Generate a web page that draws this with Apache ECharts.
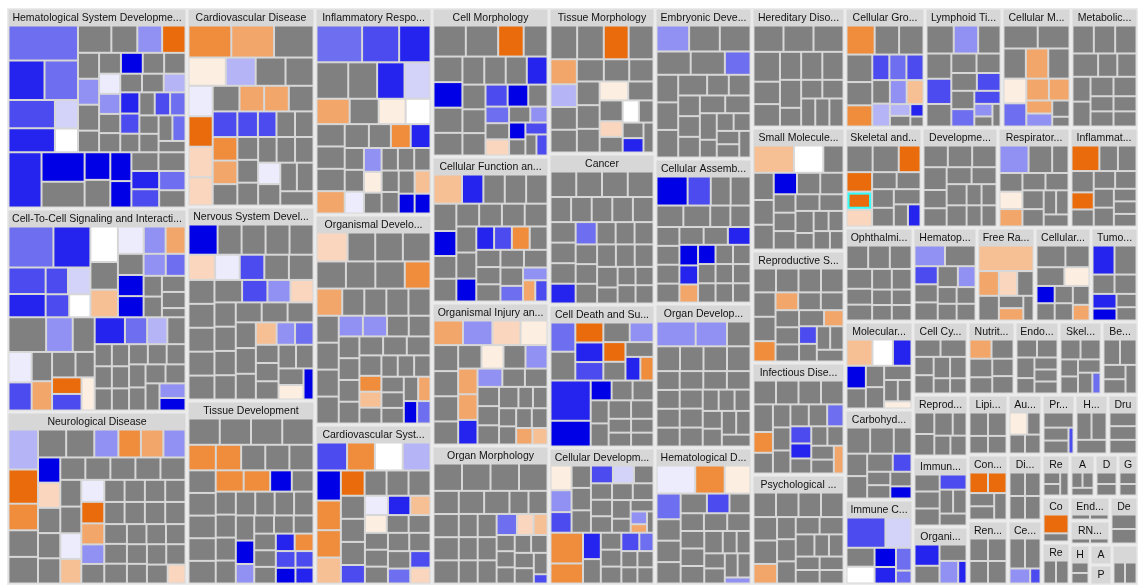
<!DOCTYPE html>
<html><head><meta charset="utf-8">
<script src="https://cdn.jsdelivr.net/npm/echarts@6/dist/echarts.min.js"></script>
<style>html,body{margin:0;padding:0;background:#fff}#c{width:1138px;height:585px}</style>
</head><body><div id="c"></div>
<script>
// ---- colour scale (IPA-style: gray = no change, blue shades down, orange shades up)
const colorCodes  = ['g','W','B0','B1','B2','B3','B4','B5','B6','B7','O0','O1','O2','O3','O4','O5'];
const colorValues = ['#808080','#ffffff','#0000e6','#2424ee','#4b4bf0','#6e6ef0','#9191f3','#b4b4f6','#d3d3f9','#ececfd',
                     '#e96b0b','#ef8d3c','#f2a66a','#f6bf94','#f9d6bd','#fdeee2'];

// ---- categories (key, name, area, cells "size:colour[*count]"; "/" separates bands, "|" blocks in a band)
const groupKeys = ['HSD','CTC','ND','CD','NSD','TD','IR','OD','CSD','CM','CFM','OIA','OM','TM','CA','CDS','CDv',
 'ED','CAO','ODv','HDi','HD','SMB','RSD','InD','PD','CGP','LT','CMo','MD','SMD','DD','RD','IDs','OphD','Hp','FRS','CCo','TMo',
 'MT','CHM','ICT','CC','NuD','ESDis','SMS','Beh','RSDF','ImD','OS','LM','AD','PS','HIR','DM','CTD','DSD','RUD','CSig',
 'RUS','AAM','DNA','GE','CTDF','RSysD','ESDF','RNA','DDC','HR','AP','PTM','VSD'];
const groupNames = ['Hematological System Development and Function','Cell-To-Cell Signaling and Interaction','Neurological Disease',
 'Cardiovascular Disease','Nervous System Development and Function','Tissue Development',
 'Inflammatory Response','Organismal Development','Cardiovascular System Development and Function',
 'Cell Morphology','Cellular Function and Maintenance','Organismal Injury and Abnormalities','Organ Morphology',
 'Tissue Morphology','Cancer','Cell Death and Survival','Cellular Development',
 'Embryonic Development','Cellular Assembly and Organization','Organ Development','Hematological Disease',
 'Hereditary Disorder','Small Molecule Biochemistry','Reproductive System Disease','Infectious Disease','Psychological Disorders',
 'Cellular Growth and Proliferation','Lymphoid Tissue Structure and Development','Cellular Movement','Metabolic Disease',
 'Skeletal and Muscular Disorders','Developmental Disorder','Respiratory Disease','Inflammatory Disease',
 'Ophthalmic Disease','Hematopoiesis','Free Radical Scavenging','Cellular Compromise','Tumor Morphology',
 'Molecular Transport','Carbohydrate Metabolism','Immune Cell Trafficking',
 'Cell Cycle','Nutritional Disease','Endocrine System Disorders','Skeletal and Muscular System Development and Function','Behavior',
 'Reproductive System Development and Function','Immunological Disease','Organismal Survival',
 'Lipid Metabolism','Auditory Disease','Protein Synthesis','Humoral Immune Response','Drug Metabolism',
 'Connective Tissue Disorders','Digestive System Development and Function','Renal and Urological Disease','Cell Signaling',
 'Renal and Urological System Development and Function','Amino Acid Metabolism','DNA Replication, Recombination, and Repair','Gene Expression',
 'Connective Tissue Development and Function','Respiratory System Development and Function',
 'Endocrine System Development and Function','RNA Post-Transcriptional Modification','Dermatological Diseases and Conditions',
 'Hypersensitivity Response','Antigen Presentation','Post-Translational Modification',''];
const groupAreas = [36180,36540,31140, 25472,24832,23552, 24219,24570,18720, 17433,17082,16731,16263,
 15476,16006,15158,14522, 14647,14065,13968,13289, 11160,11439,10416,10416,10230,
 9600,9240,8280,8040, 7700,7600,7200,6800, 6392,6016,5452,5264,4418, 5984,6120,5780,
 4015,3431,3212,3139,2628, 3410,3850,3190, 2400,2040,1980,1980,1800, 2640,2244,2560,2176,
 1176,1050,966,840, 1288,1176, 960,960,1344, 800,440,440,1040];
const groupCells = [
 "24:B3 14:B1 13:B3 11:B1 13:B2 6.5:B6 5.4:W | 9:g 4:g*2 5.4:g 5.4:B4 3.3:B3 6.7:B4 5.4:g 4.2:B7 3.8:B2 4.5:g*2 4.5:B0 3.5:g*2 3.5:B2 4:g*2 6.3:O0 4.4:g*2 4.2:B4 4:B5 3.5:B3 7:g 4:B1 3.5:g*3 3:g / 18:B1 12.5:B0 11:g | 7:B0 5:g*2 6:B0 5.5:B0 7:g 5:B1 4.5:g 5:B2 5:B3",
 "17:B3 5:B2 5.5:B2 9:B2 5.5:B6 14:B1 8:B1 4.5:W | 6.5:B7 5.5:B4 7:g 2:g 7:O3 9:W 4.5:B4 4:B3 5:O2 5:g 5:B0 3.5:g*4 5:B0 / 12:g 7:g 6.5:B7 6:B2 5.5:g 5.5:O2 4:O5 4.5:g 4.5:O0 4.5:B2 5.5:g 8.5:B4 | 7.5:B1 4.5:g 5:B5 5.5:B3 3.5:g*14 3.5:B4 3:B0",
 "3:O4 9:O0 5.6:O1 7:O1 5.5:B4 5:B0 4.4:O0 4.8:B7 4.5:B7 4.3:O2 6:B4 5.6:O2 4.6:O3 10.5:B5 5:O4 4:B4 7:g*4 5:g*10 4:g*12 3.5:g*8",
 "13:O1 7:B7 10:O5 13:O2 6:O2 5:g 7.5:g 6:O2 8:B5 6.5:O4 6:g 6:B2 5.5:O1 5.5:O2 8:g 12:g 4.5:B2 5:B2 4.5:g*3 7:O0 4.5:g*5 7:O4 6.5:g 4.5:B7 4.5:g*4",
 "6:B7 5:B4 5:O4 4.5:O3 4:B4 4:B3 6.5:O4 5.5:B2 8.5:B0 6:B2 3:B0 3.5:O5 7:g*4 6:g*8 5:g*10 4:g*6",
 "5.5:O1 3:B0 3.2:B1 4.5:B0 4.2:B0 2.8:B1 6.8:O1 6.3:O1 3.5:B4 3.2:O1 3.2:B2 2.9:B2 5.8:O1 8:g*4 6:g*8 4.5:g*10 3.5:g*6",
 "11:B1 13:B2 9.5:B1 16:B3 9:B6 6:W 6:g 11:g 8:O2 10:g 5:g 4.5:O1 6.5:O5 6:g 5.5:g 7:g 4:g 3.5:O5 4:g 4:B7 4:B4 6:g 3:B0 3:B0 3.5:g*3 6:O2 4.5:B1 3.5:g*4 3.5:O3",
 "3:O2 9:O4 7:O1 5:B4 5:B4 7:O2 3.5:O1 3.5:O3 3:B0 3:B3 8:g*6 6:g*8 4.5:g*10 3.5:g*8",
 "2.9:O4 3:B3 7:O1 6.5:O1 6:O1 7:W 7:B5 3:B2 6.6:B0 5.4:O0 3.9:B1 4:B2 4:B7 7.7:B2 5.7:O3 3.5:O3 3.5:O5 5:g*6 3.5:g*8",
 "5.7:g 5.4:g 4.9:g 9.5:g 5.8:g 6.2:g 5.2:g 9.5:g 7:g 6.9:g 7:g 3.2:g 4:g 3.6:g 5.6:g 2.5:g 2.2:g 3.7:B3 2.6:B4 2.6:B0 4.6:B2 5.5:B1 4.3:B0 7.5:O0 3.6:O4 2.5:B2 7:B0 2.2:B2",
 "4:B1 4.4:B0 2.5:O2 2.5:B2 4:B2 4:O1 6:B1 5.5:B0 8:O3 3.4:B3 3:B4 6:g*4 5:g*8 4:g*7",
 "2.6:O2 2.4:O3 4.6:B1 4.8:O2 5:O5 6.4:O5 6.7:O4 5:g 6.2:g 5.5:g 5.3:g 7:O2 4.8:O2 3:g*2 5:B4 7:B4 4.4:B4 6:g*2 4:g*6 3:g*4",
 "1.3:B2 4.4:B3 3.6:O4 3:O3 8:g*4 6:g*6 4.5:g*8 3:g*8",
 "2.5:B1 2.5:g 3:O4 5:B5 4.5:g 5.5:O2 4.7:g 2.7:g*2 3:g 7:O0 5:g 7:g 4:g 5:g*2 7.5:g*2 4.5:g*3 4.5:O5 4:g 3:W",
 "5:B3 5.3:B1 7:g*4 5.5:g*8 4.5:g*10 3.5:g*5",
 "4.2:O0 3.4:B1 4:g 5.4:O0 5.3:B1 3:O1 7:B3 4:g 4.5:B4 6.9:g 5:B2 5:g / 15.6:B1 10:B0 | 4:B0 4:g*6 3:g*4",
 "6:O5 4.5:B2 4.3:B6 1.6:O2 1.6:g 2.4:B4 5.3:B4 5:B2 5:g*3 4:g*7 3:g*2 / 11.5:O1 7.5:O1 5.4:B1 3.8:B2 3:B3 5:g 4:g*3 3:g*4",
 "6:B3 8.5:B4 8:g*4 6:g*4 4.5:g*8 3:g*6",
 "3.7:B1 4:B0 4.2:B1 3.5:O2 9.4:B0 7:B2 3.5:B0 6:g*4 4.5:g*8 3.5:g*8",
 "10:B4 8:B4 6:g*5 4.5:g*10 3.5:g*8",
 "8:O1 10.5:B7 7:O5 6:B3 4.3:B2 1.5:B4 5:g*4 4:g*8 3:g*6",
 "8:g*4 6:g*6 4:g*6",
 "5:g*2 2.5:g 3:g 4:g*2 5.5:g*2 5:B0 5:g*2 11:O3 8:W 4:g*4 3:g*3",
 "5:O1 4.5:O2 3.5:O2 3.5:B2 6:g*6 4.5:g*6 3.5:g*4",
 "4:B3 4:B2 4.5:O1 3.5:B1 3:O2 6:g*5 4.5:g*6 3.5:g*5",
 "5:O2 6:g*6 4.5:g*6 3.5:g*6",
 "7.5:O1 5:O1 1.5:B1 1.2:g 4:B2 4:B3 4:B2 3.7:B5 3.7:B4 3.7:O3 5.5:g 6.5:g*3 3.8:g 2.2:B5 2:g",
 "2:B4 1.6:g*2 6:B4 5.5:g*2 4.3:g 4.9:g 5.5:B2 3.7:B2 4.1:g 3.7:g 4:g 3.5:B3 6.7:g 3:B2",
 "4.4:O2 4:O2 2.5:g 6.5:g 6:g 5:O5 4.7:B3 6:O2 7:g 3:O2 3:B4 5.7:g 1.5:g",
 "6:g*4 4.5:g*6 3.5:g*4",
 "4:O0c 3.6:g 2.4:B1 2.7:g 6:g 4.3:O0 3.7:O4 3.5:g 5:O0 6:g 3.5:g*3",
 "5:g*4 4:g*6 3:g*4",
 "4.3:g 3:g 4:O5 6.5:g 4:O2 3.7:g 8:B4 4.5:g 4:g*3 3:g*2",
 "7.5:O0 4:O0 5:g*3 4:g*5 3:g*3",
 "5:g*4 4:g*4 3:g*4",
 "6:B4 4:B2 3.5:B4 6:g 4:g*3 3:g*4",
 "14:O3 5:O2 4.5:O4 3:g 2.5:g 3:O2 4:g 5:g",
 "2.5:O2 4.5:O5 3:B0 6:g 5:g*2 3:g*4",
 "6:B1 3.3:B1 2.7:B0 6:g 4:g*2 2.5:g*2",
 "7:O3 5.5:W 2:O5 5:B1 4.5:B0 4:g 4:g*3 3:g*2",
 "2.5:B0 3.3:B2 6:g*2 4.5:g*4 3:g*3",
 "3:B1 3:B3 1.7:B3 10:B2 6.7:B6 4:W 3.5:B0 4.5:g",
 "4.5:g*2 3.5:g*4 2.5:g*2",
 "4:O2 4:g*2 3.5:g*3",
 "4:g*3 3:g*4",
 "1.7:B3 4:g*2 3:g*4",
 "4:g*2 3:g*3",
 "4:g*3 3:g*3",
 "3.8:B2 4:g*3 3:g*3",
 "1.7:B1 3.8:B4 4.8:B1 4:g*2",
 "4:g*2 3:g*2",
 "4:O5 3:g*3",
 "1:B2 3.5:g 2.5:g*2",
 "3:g*3",
 "3:g*3",
 "3.5:O0 3.5:O0 3:g*3",
 "3:g*4",
 "3:g*4",
 "1:B2 2:B4 3:g*2",
 "2:g*3","2:g*3","2:g*2","2:g*2",
 "2.3:O0 1:g","2:g*2",
 "2:g*2","2:g*2","2:g*2",
 "2:g*2","1:g","1:g","1:g*2"
];

// ---- arrangement (which categories sit together)
const columns = [['HSD','CTC','ND'],['CD','NSD','TD'],['IR','OD','CSD'],['CM','CFM','OIA','OM'],
                 ['TM','CA','CDS','CDv'],['ED','CAO','ODv','HDi'],['HD','SMB','RSD','InD','PD']];
const rightBlock = [['CGP','LT','CMo','MD'], [['SMD','DD','RD','IDs'], [['OphD','Hp','FRS','CCo','TMo'],
  [['MT','CHM','ICT'], [['CC','NuD','ESDis','SMS','Beh'], [['RSDF','ImD','OS'], [['LM','AD','PS','HIR','DM'],
  [[['CTD','DSD'],['RUD','CSig']], [['RUS','AAM','DNA','GE'], [['CTDF','RSysD'], [['ESDF','RNA','DDC'], ['HR',['AP','PTM'],'VSD']]]]]]]]]]]];

function parseCells(str) {
  const out = [];
  str.trim().split(/\s+/).forEach(tok => {
    const m = tok.match(/^([\d.]+):([A-Za-z0-9]+?)(c?)(?:\*(\d+))?$/);
    const n = m[4] ? +m[4] : 1;
    for (let k = 0; k < n; k++) out.push({v: +m[1], c: m[2], hl: m[3] === 'c'});
  });
  return out.sort((a, b) => b.v - a.v);
}
function cellNodes(str, prefix) {
  return parseCells(str).map((c, j) => {
    const col = colorValues[colorCodes.indexOf(c.c)];
    return {name: prefix + ' #' + (j + 1), value: c.v,
      itemStyle: c.hl ? {color: col, borderColor: '#33ffff', borderWidth: 2} : {color: col}};
  });
}
function subNode(children) {
  return {name: '', itemStyle: {borderWidth: 0, gapWidth: 2, borderColor: '#d7d7d7'}, upperLabel: {show: false}, children};
}
function groupNode(key) {
  const i = groupKeys.indexOf(key);
  const prefix = groupNames[i] || 'x';
  const bands = groupCells[i].split('/');
  let children;
  if (bands.length === 1 && bands[0].indexOf('|') < 0) {
    children = cellNodes(bands[0], prefix);
  } else {
    children = bands.map((band, b) => {
      const blocks = band.split('|');
      if (blocks.length === 1) return subNode(cellNodes(band, prefix + ' ' + b));
      return subNode(blocks.map((bl, k) => subNode(cellNodes(bl, prefix + ' ' + b + '.' + k))));
    });
    if (children.length === 1) children = children[0].children;
  }
  return {
    name: groupNames[i], value: groupAreas[i],
    itemStyle: {borderWidth: 1, borderColor: '#d7d7d7', gapWidth: 2},
    upperLabel: {show: true}, children
  };
}
function buildNode(x) {
  if (typeof x === 'string') return groupNode(x);
  return {name: '', itemStyle: {borderWidth: 0, gapWidth: 3, borderColor: '#ebebeb'},
          upperLabel: {show: false}, children: x.map(buildNode)};
}
function areaOf(x) { return typeof x === 'string' ? groupAreas[groupKeys.indexOf(x)] : x.reduce((s, y) => s + areaOf(y), 0); }

const X0 = 7, Y0 = 8, W = 1131, H = 577;
const blocks = columns.concat([rightBlock]);
const blockSums = blocks.map(areaOf);
const total = blockSums.reduce((a, b) => a + b, 0);

const common = {
  type: 'treemap', roam: false, nodeClick: false, sort: false, squareRatio: 1, visibleMin: 0,
  breadcrumb: {show: false}, silent: true, animation: false, drillDownIcon: '',
  label: {show: false},
  upperLabel: {show: true, height: 17, position: 'inside', color: '#111', fontSize: 10.5,
    fontFamily: "'Liberation Sans', Arial, sans-serif",
    overflow: 'truncate', ellipsis: '...', padding: [0, 2]},
  itemStyle: {borderWidth: 0, gapWidth: 0, borderColor: '#d7d7d7'},
  levels: [{itemStyle: {borderWidth: 1.5, gapWidth: 3, borderColor: '#ebebeb'}, upperLabel: {show: false}}]
};
let acc = 0;
const series = blocks.map((b, k) => {
  const left = X0 + W * acc / total;
  const width = W * blockSums[k] / total;
  acc += blockSums[k];
  return Object.assign({}, common, {left, top: Y0, width, height: H, data: b.map(buildNode)});
});

const chart = echarts.init(document.getElementById('c'), null, {renderer: 'canvas'});
chart.setOption({backgroundColor: '#ffffff', series});
</script></body></html>
